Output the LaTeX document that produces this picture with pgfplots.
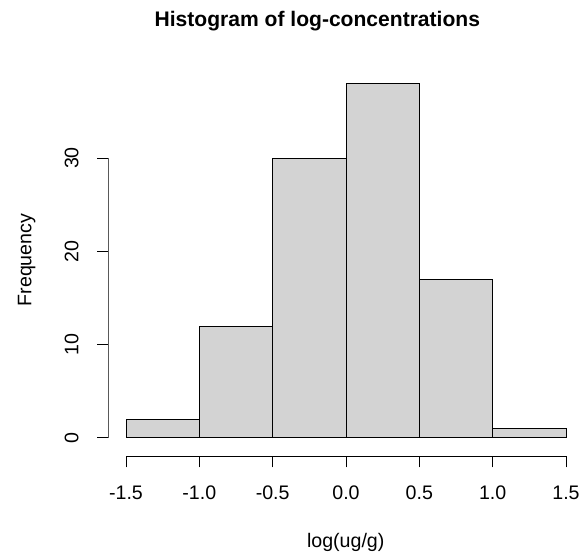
\documentclass[border=0pt]{standalone}
\usepackage{fontspec}
\setmainfont{Liberation Sans}
\usepackage{pgfplots}
\pgfplotsset{compat=1.18}
\definecolor{barfill}{RGB}{211,211,211}

\begin{document}
\begin{tikzpicture}
\begin{axis}[
    at={(81.3pt,-342pt)}, anchor=south west,
    scale only axis,
    width=356.4pt, height=290.1pt,
    xmin=-1.62, xmax=1.62, ymin=-1.93, ymax=39.52,
    axis x line*=bottom, axis y line*=left,
    axis line style={draw=none},
    xtick={-1.5,-1,-0.5,0,0.5,1,1.5},
    xticklabels={-1.5,-1.0,-0.5,0.0,0.5,1.0,1.5},
    ytick={0,10,20,30},
    yticklabels={0,10,20,30},
    tick align=outside,
    major tick length=8.5pt,
    tick style={black, line width=0.75pt},
    xticklabel style={anchor=base, yshift=-23.8pt, font=\fontsize{14.7}{17}\selectfont},
    yticklabel style={xshift=-14pt, rotate=90, anchor=base, font=\fontsize{14.7}{17}\selectfont},
]
\addplot[ybar interval, fill=barfill, draw=black, line width=0.75pt]
    coordinates {(-1.5,2) (-1,12) (-0.5,30) (0,38) (0.5,17) (1,1) (1.5,1)};
\draw[line width=0.75pt] (axis cs:-1.5,-1.93) -- (axis cs:1.5,-1.93);
\draw[line width=0.75pt] (axis cs:-1.62,0) -- (axis cs:-1.62,30);
\end{axis}
\node[anchor=base, font=\bfseries\fontsize{15.8}{19}\selectfont] at (238pt,-20pt) {Histogram of log-concentrations};
\node[anchor=base, font=\fontsize{14.7}{17}\selectfont] at (259.3pt,-410.6pt) {log(ug/g)};
\node[anchor=base, rotate=90, font=\fontsize{14.7}{17}\selectfont] at (23.6pt,-195pt) {Frequency};
\pgfresetboundingbox
\path[use as bounding box] (0pt,0pt) rectangle (438pt,-416.25pt);
\end{tikzpicture}
\end{document}
